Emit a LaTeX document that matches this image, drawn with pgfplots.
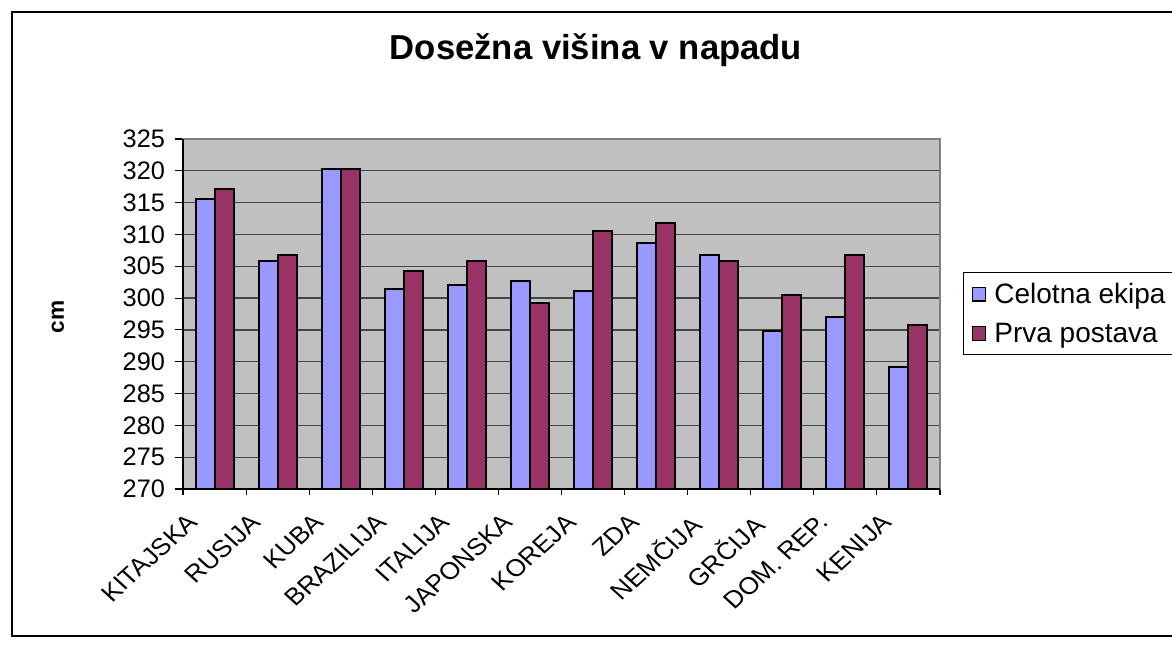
\documentclass[border=0pt]{standalone}
\usepackage{pgfplots}
\pgfplotsset{compat=1.18}
\usepackage{graphicx}
\usepackage{fontspec}
\setmainfont{Liberation Sans}
\definecolor{plotbg}{HTML}{C0C0C0}
\definecolor{barblue}{HTML}{9999FF}
\definecolor{barred}{HTML}{993366}
\definecolor{gridc}{HTML}{454545}
% rotated and slightly stretched category label
\newcommand\cl[1]{\scalebox{1.1}[1]{\rotatebox{45}{#1}}}

\pgfplotstableread{
x a b
0 315.5 317.1
1 305.8 306.8
2 320.3 320.3
3 301.4 304.3
4 302.0 305.8
5 302.7 299.2
6 301.1 310.6
7 308.6 311.8
8 306.8 305.9
9 294.8 300.5
10 297.0 306.8
11 289.2 295.8
}\dosezna

\begin{document}
\begin{tikzpicture}
\path[use as bounding box] (-137.25pt,-119.25pt) rectangle (741.75pt,366.75pt);
\draw[line width=1.5pt] (-128.25pt,-110.25pt) rectangle (760pt,357.75pt);
\begin{axis}[name=ax,at={(0,0)},anchor=south west,
 scale only axis,width=567.75pt,height=262.5pt,
 ybar=0pt,bar width=14.25pt,
 xmin=-0.5,xmax=11.5,ymin=270,ymax=325,
 ytick={270,275,...,325},
 xtick={0,...,11},
 xticklabels={\cl{KITAJSKA},\cl{RUSIJA},\cl{KUBA},\cl{BRAZILIJA},\cl{ITALIJA},\cl{JAPONSKA},\cl{KOREJA},\cl{ZDA},\cl{NEMČIJA},\cl{GRČIJA},\cl{DOM. REP.},\cl{KENIJA}},
 minor xtick={-0.5,0.5,...,11.5},
 xtick pos=bottom,ytick pos=left,
 major x tick style={draw=none},
 minor x tick style={black,line width=0.8pt},
 y tick style={black,line width=0.8pt},
 tick align=outside,major tick length=6pt,minor tick length=4.5pt,
 ymajorgrids,grid style={gridc,line width=0.9pt},
 axis background/.style={fill=plotbg},
 axis line style={draw=gray,line width=1pt},
 /pgf/number format/assume math mode=true,
 yticklabel style={font=\fontsize{19}{21}\selectfont,xshift=-4pt},
 xticklabel style={font=\fontsize{18}{20}\selectfont,anchor=north east,xshift=-8pt,yshift=-8pt},
 ylabel={cm},
 every axis y label/.style={at={(-93.75pt,129pt)},rotate=90,anchor=center,font=\bfseries\fontsize{17}{20}\selectfont},
 legend style={at={(585pt,162.75pt)},anchor=north west,draw=black,line width=0.8pt,
   font=\fontsize{21}{24}\selectfont,row sep=9pt,inner xsep=6pt,inner ysep=6pt,
   legend cell align=left},
 legend image code/.code={\draw[#1,line width=0.8pt] (0pt,-5pt) rectangle (10pt,5pt);\path (14pt,0pt);},
 ]
\addplot[fill=barblue,draw=black,line width=1.5pt] table[x=x,y=a] {\dosezna};
\addplot[fill=barred,draw=black,line width=1.5pt] table[x=x,y=b] {\dosezna};
\legend{Celotna ekipa,Prva postava}
\end{axis}
\draw[black,line width=1pt] (ax.north west) -- (ax.south west) -- (ax.south east);
\node[font=\bfseries\fontsize{26}{30}\selectfont] at (309.75pt,329.25pt) {Dosežna višina v napadu};
\end{tikzpicture}
\end{document}
